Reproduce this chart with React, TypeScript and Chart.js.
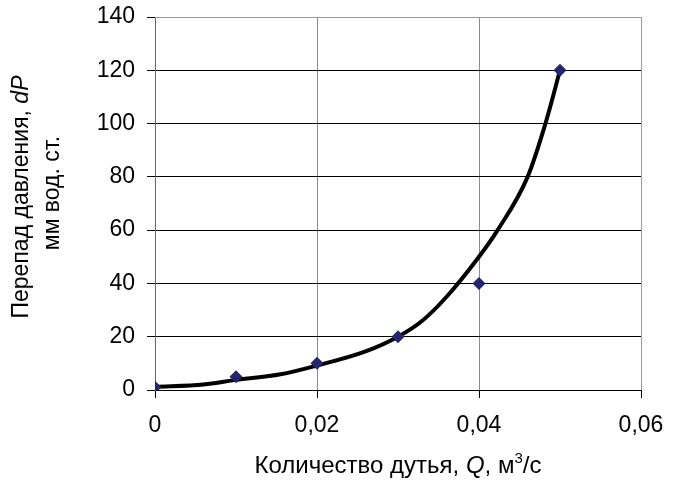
import React, { useEffect, useRef } from "react";
import { Chart, registerables } from "chart.js";

Chart.register(...registerables);

// Measured points: air flow Q (m³/s) vs pressure drop dP (mm w.c.)
const flowQ = [0, 0.01, 0.02, 0.03, 0.04, 0.05];
const pressureDP = [1, 5, 10, 20, 40, 120];

// Smooth trend curve
const curveQ = [0, 0.006, 0.01, 0.0155, 0.02, 0.026, 0.03, 0.033, 0.036, 0.04, 0.0423, 0.046, 0.0482, 0.05];
const curveDP = [1.2, 2.1, 3.8, 5.9, 9.2, 14.5, 20, 26, 35, 50, 60, 80, 100, 120];

const xTicks = [0, 0.02, 0.04, 0.06];
const yTicks = [0, 20, 40, 60, 80, 100, 120, 140];

const FONT = "'Liberation Sans', Arial, sans-serif";
const FS = 23;

type Seg = { t: string; italic?: boolean; sup?: boolean };

function segWidth(ctx: CanvasRenderingContext2D, s: Seg, fs: number) {
  const size = s.sup ? Math.round(fs * 0.62) : fs;
  ctx.font = `${s.italic ? "italic " : ""}${size}px ${FONT}`;
  return ctx.measureText(s.t).width;
}

function drawSegs(ctx: CanvasRenderingContext2D, segs: Seg[], cx: number, cy: number, fs: number) {
  let total = 0;
  for (const s of segs) total += segWidth(ctx, s, fs);
  let x = cx - total / 2;
  ctx.textAlign = "left";
  ctx.textBaseline = "middle";
  ctx.fillStyle = "#000";
  for (const s of segs) {
    const w = segWidth(ctx, s, fs);
    ctx.fillText(s.t, x, s.sup ? cy - fs * 0.3 : cy);
    x += w;
  }
}

const titlesPlugin = {
  id: "titles",
  beforeDatasetsDraw(chart: any) {
    const { ctx, chartArea } = chart;
    ctx.save();
    ctx.strokeStyle = "#9a9a9a";
    ctx.lineWidth = 1;
    ctx.beginPath();
    ctx.moveTo(chartArea.left, chartArea.top + 0.5);
    ctx.lineTo(chartArea.right + 0.5, chartArea.top + 0.5);
    ctx.lineTo(chartArea.right + 0.5, chartArea.bottom);
    ctx.stroke();
    ctx.restore();
  },
  afterDraw(chart: any) {
    const { ctx, chartArea } = chart;
    ctx.save();
    const cx = (chartArea.left + chartArea.right) / 2;
    drawSegs(
      ctx,
      [{ t: "Количество дутья, " }, { t: "Q", italic: true }, { t: ", м" }, { t: "3", sup: true }, { t: "/с" }],
      cx,
      466,
      24
    );
    const cy = 197;
    ctx.save();
    ctx.translate(22, cy);
    ctx.rotate(-Math.PI / 2);
    drawSegs(ctx, [{ t: "Перепад давления, " }, { t: "dP", italic: true }], 0, 0, 23);
    ctx.restore();
    ctx.save();
    ctx.translate(53, 193);
    ctx.rotate(-Math.PI / 2);
    drawSegs(ctx, [{ t: "мм вод. ст." }], 0, 0, 23);
    ctx.restore();
    ctx.restore();
  },
};

export default function App() {
  const ref = useRef<HTMLCanvasElement | null>(null);
  useEffect(() => {
    document.body.style.margin = "0";
    if (!ref.current) return;
    const chart = new Chart(ref.current, {
      type: "scatter",
      data: {
        datasets: [
          {
            type: "line",
            data: curveQ.map((q, i) => ({ x: q, y: curveDP[i] })),
            borderColor: "#000",
            borderWidth: 4,
            pointRadius: 0,
            cubicInterpolationMode: "monotone",
            fill: false,
            order: 2,
          } as any,
          {
            type: "scatter",
            data: flowQ.map((q, i) => ({ x: q, y: pressureDP[i] })),
            pointStyle: "rectRot",
            pointRadius: 6.5,
            backgroundColor: "#25256f",
            borderColor: "#25256f",
            borderWidth: 0,
            order: 1,
          },
        ],
      },
      options: {
        animation: false,
        responsive: false,
        events: [],
        layout: { padding: { top: 17, right: 39, left: 0, bottom: 0 } },
        plugins: { legend: { display: false }, tooltip: { enabled: false } },
        scales: {
          x: {
            type: "linear",
            min: 0,
            max: 0.06,
            afterBuildTicks: (s: any) => {
              s.ticks = xTicks.map((v) => ({ value: v }));
            },
            afterFit: (s: any) => {
              s.height = 96;
              s.paddingLeft = 0;
              s.paddingRight = 0;
            },
            grid: { color: "#8a8a8a", tickColor: "#000", tickLength: 8, lineWidth: 1 },
            border: { color: "#000", width: 1 },
            ticks: {
              color: "#000",
              font: { family: FONT, size: FS },
              padding: 14,
              maxRotation: 0,
              callback: (v: any) => (v === 0 ? "0" : Number(v).toFixed(2).replace(".", ",")),
            },
          },
          y: {
            type: "linear",
            min: 0,
            max: 140,
            afterBuildTicks: (s: any) => {
              s.ticks = yTicks.map((v) => ({ value: v }));
            },
            afterFit: (s: any) => {
              s.width = 155;
              s.paddingTop = 0;
              s.paddingBottom = 0;
            },
            grid: { color: "#000", tickColor: "#000", tickLength: 8, lineWidth: 1 },
            border: { color: "#666", width: 1 },
            ticks: {
              color: "#000",
              font: { family: FONT, size: FS },
              padding: 12,
            },
          },
        },
      } as any,
      plugins: [titlesPlugin],
    });
    return () => chart.destroy();
  }, []);
  return (
    <div style={{ position: "absolute", left: 0, top: 0, width: 680, height: 486, background: "#fff" }}>
      <canvas ref={ref} width={680} height={486} style={{ width: 680, height: 486 }} />
    </div>
  );
}
